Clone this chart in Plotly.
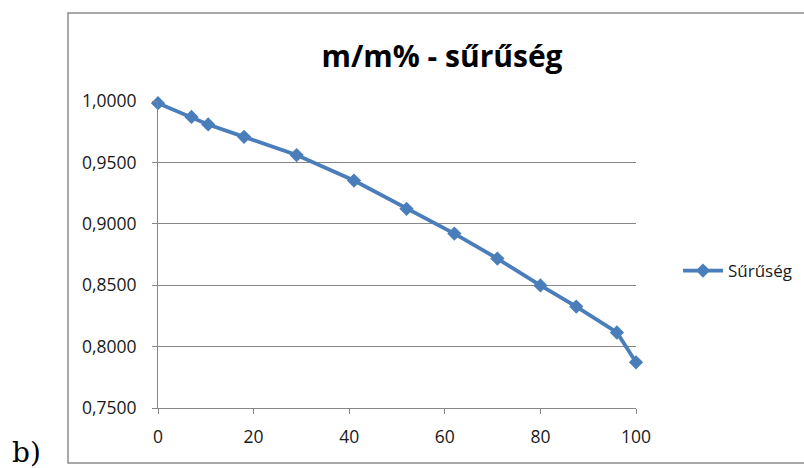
import plotly.graph_objects as go

mass_percent = [0, 7, 10.5, 18, 29, 41, 52, 62, 71, 80, 87.5, 96, 100]
density = [0.9982, 0.9870, 0.9809, 0.9708, 0.9560, 0.9352, 0.9122, 0.8920,
           0.8717, 0.8498, 0.8326, 0.8115, 0.7872]
x_ticks = [0, 20, 40, 60, 80, 100]
y_ticks = [0.75, 0.80, 0.85, 0.90, 0.95, 1.00]

BLUE = "#4a7ebb"
GRID = "#868686"
FONT = "Open Sans, Carlito, sans-serif"

fig = go.Figure()
fig.add_trace(go.Scatter(
    x=mass_percent, y=density, mode="lines+markers", name="Sűrűség",
    line=dict(color=BLUE, width=3.8),
    marker=dict(symbol="diamond", size=11, color=BLUE),
    cliponaxis=False,
))

W, H = 804, 468
L, R, T, B = 158, 168, 101, 60
pw, ph = W - L - R, H - T - B

def px(x):
    return (x - L) / pw

def py(y):
    return 1 - (y - T) / ph

fig.update_layout(
    width=W, height=H,
    margin=dict(l=L, r=R, t=T, b=B, autoexpand=False),
    paper_bgcolor="white", plot_bgcolor="white",
    separators=", ",
    font=dict(family=FONT, size=17.5, color="#1a1a1a"),
    title=dict(text="<b>m/m% - sűrűség</b>", xref="container", x=442 / W,
               xanchor="center", yref="container", y=1 - 56 / H,
               yanchor="middle",
               font=dict(family=FONT, size=30, color="black")),
    showlegend=True,
    legend=dict(x=px(678), y=py(271), xanchor="left", yanchor="middle",
                font=dict(family=FONT, size=17, color="#1a1a1a"),
                bgcolor="rgba(0,0,0,0)", itemwidth=40),
    xaxis=dict(range=[0, 100], tickvals=x_ticks, showgrid=False,
               showline=True, linecolor=GRID, linewidth=1,
               ticks="outside", ticklen=5, tickcolor=GRID,
               ticklabelstandoff=8, zeroline=False),
    yaxis=dict(range=[0.75, 1.0], tickvals=y_ticks, tickformat=".4f",
               showgrid=True, gridcolor=GRID, gridwidth=1,
               showline=True, linecolor=GRID, linewidth=1,
               ticks="outside", ticklen=5, tickcolor=GRID,
               ticklabelstandoff=12, zeroline=False),
)

# chart frame
fig.add_shape(type="rect", xref="paper", yref="paper",
              x0=px(68), x1=px(820), y0=py(463), y1=py(13),
              line=dict(color="#8c8c8c", width=1.5), fillcolor="rgba(0,0,0,0)",
              layer="below")

fig.add_annotation(text="b)", xref="paper", yref="paper",
                   x=px(10), y=py(452), xanchor="left", yanchor="middle",
                   showarrow=False,
                   font=dict(family="DejaVu Serif, serif", size=28, color="black"))

fig.write_html("out.html")
